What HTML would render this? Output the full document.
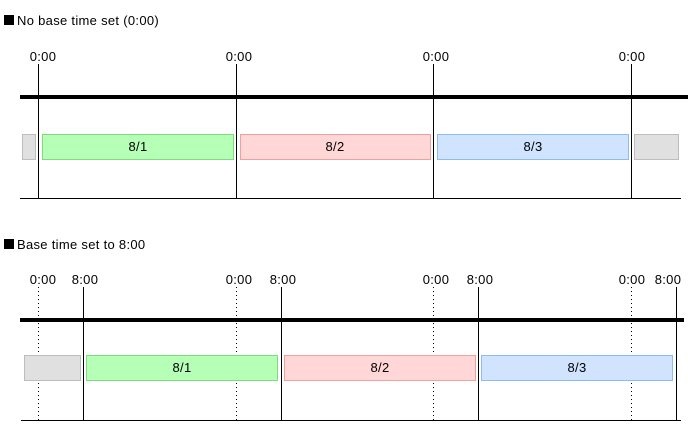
<!DOCTYPE html>
<html><head><style>
html,body{margin:0;padding:0;background:#fff;}
svg{display:block;}
text{font-family:"Liberation Sans",sans-serif;font-size:13px;fill:#000;letter-spacing:0.3px;}
</style></head><body>
<svg width="688" height="432" viewBox="0 0 688 432" xmlns="http://www.w3.org/2000/svg">
<!-- Section 1 -->
<rect x="4" y="15" width="10" height="10" fill="#000"/>
<text x="17" y="25">No base time set (0:00)</text>
<g text-anchor="middle">
<text x="43" y="61">0:00</text><text x="239" y="61">0:00</text><text x="436" y="61">0:00</text><text x="632" y="61">0:00</text>
</g>
<g stroke="#000" stroke-width="1">
<line x1="38.5" y1="64" x2="38.5" y2="198"/>
<line x1="236.5" y1="64" x2="236.5" y2="198"/>
<line x1="433.5" y1="64" x2="433.5" y2="198"/>
<line x1="631.5" y1="64" x2="631.5" y2="198"/>
<line x1="20" y1="198.5" x2="681" y2="198.5"/>
</g>
<rect x="20" y="95" width="668" height="4" fill="#000"/>
<rect x="22.5" y="134.5" width="13" height="25" fill="#e0e0e0" stroke="#bdbdbd"/>
<rect x="42.5" y="134.5" width="191" height="25" fill="#b6ffb6" stroke="#7ddc7d"/>
<rect x="240.5" y="134.5" width="190" height="25" fill="#ffd7d7" stroke="#f0a0a0"/>
<rect x="437.5" y="134.5" width="191" height="25" fill="#d0e4ff" stroke="#8cbcf0"/>
<rect x="634.5" y="134.5" width="44" height="25" fill="#e0e0e0" stroke="#bdbdbd"/>
<g text-anchor="middle">
<text x="138" y="151">8/1</text><text x="335" y="151">8/2</text><text x="533" y="151">8/3</text>
</g>
<!-- Section 2 -->
<rect x="4" y="239" width="10" height="10" fill="#000"/>
<text x="17" y="249">Base time set to 8:00</text>
<g text-anchor="middle">
<text x="43" y="284">0:00</text><text x="85" y="284">8:00</text>
<text x="239" y="284">0:00</text><text x="283" y="284">8:00</text>
<text x="436" y="284">0:00</text><text x="480" y="284">8:00</text>
<text x="632" y="284">0:00</text><text x="668" y="284">8:00</text>
</g>
<g stroke="#000" stroke-width="1" stroke-dasharray="1 3">
<line x1="38.5" y1="287" x2="38.5" y2="420"/>
<line x1="236.5" y1="287" x2="236.5" y2="420"/>
<line x1="433.5" y1="287" x2="433.5" y2="420"/>
<line x1="631.5" y1="287" x2="631.5" y2="420"/>
</g>
<g stroke="#000" stroke-width="1">
<line x1="83.5" y1="287" x2="83.5" y2="420"/>
<line x1="281.5" y1="287" x2="281.5" y2="420"/>
<line x1="478.5" y1="287" x2="478.5" y2="420"/>
<line x1="676.5" y1="287" x2="676.5" y2="420"/>
<line x1="21" y1="420.5" x2="681" y2="420.5"/>
</g>
<rect x="20" y="318" width="664" height="4" fill="#000"/>
<rect x="24.5" y="355.5" width="56" height="25" fill="#e0e0e0" stroke="#bdbdbd"/>
<rect x="86.5" y="355.5" width="191" height="25" fill="#b6ffb6" stroke="#7ddc7d"/>
<rect x="284.5" y="355.5" width="191" height="25" fill="#ffd7d7" stroke="#f0a0a0"/>
<rect x="481.5" y="355.5" width="191" height="25" fill="#d0e4ff" stroke="#8cbcf0"/>
<g text-anchor="middle">
<text x="182" y="372">8/1</text><text x="380" y="372">8/2</text><text x="577" y="372">8/3</text>
</g>
</svg>
</body></html>
